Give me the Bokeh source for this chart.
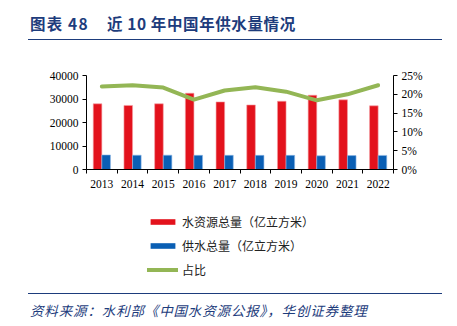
from bokeh.plotting import figure
from bokeh.models import (Range1d, LinearAxis, FixedTicker, Legend, LegendItem, ColumnDataSource, Div)
from bokeh.layouts import column
from bokeh.transform import dodge
from bokeh.embed import file_html
from bokeh.resources import INLINE

years = ["2013", "2014", "2015", "2016", "2017", "2018", "2019", "2020", "2021", "2022"]
water_resources = [27958, 27267, 27963, 32466, 28761, 27463, 29041, 31605, 29638, 27088]
water_supply = [6183, 6095, 6103, 6040, 6043, 6016, 6021, 5813, 5920, 5998]
ratio_pct = [22.1, 22.4, 21.8, 18.6, 21.0, 21.9, 20.7, 18.4, 20.0, 22.4]
left_ticks = [0, 10000, 20000, 30000, 40000]
right_ticks = [0, 5, 10, 15, 20, 25]
series_names = ["水资源总量（亿立方米）", "供水总量（亿立方米）", "占比"]
title_label = "图表 48"
title_text = "近 10 年中国年供水量情况"
source_text = "资料来源：水利部《中国水资源公报》，华创证券整理"

RED = "#e3121c"
BLUE = "#0a5fb4"
GREEN = "#93b655"
NAVY = "#1d3c7c"
CJK = "Noto Sans CJK SC"

W = 457
TOP_H, MAIN_H, LEG_H, BOT_H = 55, 145, 90, 36
FL, FR = 86, 393

# ---------- title ----------
span_style = (f"position:absolute;top:12px;line-height:22px;white-space:nowrap;"
              f"font-family:'{CJK}';font-weight:bold;font-size:15.5px;color:{NAVY};")
top = Div(width=W, height=TOP_H, margin=(0, 0, 0, 0),
          text=(f'<div style="position:absolute;left:28px;top:0px;width:414px;height:40px;'
                f'border-bottom:1.6px solid {NAVY};">'
                f'<span style="{span_style}left:2px;letter-spacing:1.2px;">{title_label}</span>'
                f'<span style="{span_style}left:79px;letter-spacing:0.6px;">{title_text}</span>'
                f'</div>'))

# ---------- main chart ----------
p = figure(width=W, height=MAIN_H, output_backend="svg", toolbar_location=None,
           x_range=Range1d(0, len(years)), y_range=Range1d(0, 40000),
           min_border_left=FL, min_border_right=W - FR,
           min_border_top=20, min_border_bottom=31,
           background_fill_color="white", border_fill_color="white", margin=(0, 0, 0, 0))
p.outline_line_color = None
p.xgrid.visible = False
p.ygrid.visible = False

centers = [i + 0.5 for i in range(len(years))]
src = ColumnDataSource(dict(x=centers, res=water_resources, sup=water_supply, ratio=ratio_pct))

bw = 0.28
p.vbar(x=dodge("x", -bw / 2, range=p.x_range), top="res", width=bw, source=src,
       fill_color=RED, line_color="#f4a0a4", line_width=0.6)
p.vbar(x=dodge("x", bw / 2, range=p.x_range), top="sup", width=bw, source=src,
       fill_color=BLUE, line_color="#8fb8e6", line_width=0.6)

p.extra_y_ranges = {"pct": Range1d(0, 25)}
p.line(x="x", y="ratio", source=src, y_range_name="pct", line_color=GREEN,
       line_width=4, line_join="round", line_cap="round")

axis_font = "Liberation Serif"
xa = p.xaxis[0]
xa.ticker = FixedTicker(ticks=centers, minor_ticks=list(range(len(years) + 1)))
xa.major_label_overrides = {c: y for c, y in zip(centers, years)}
xa.major_tick_out = 0
xa.major_tick_in = 0
xa.minor_tick_out = 4
xa.minor_tick_in = 0
xa.minor_tick_line_color = "black"
xa.axis_line_color = "black"
xa.major_label_text_font = axis_font
xa.major_label_text_font_size = "11.5px"
xa.major_label_text_color = "black"
xa.major_label_standoff = 6

ya = p.yaxis[0]
ya.ticker = FixedTicker(ticks=left_ticks)
ya.major_label_overrides = {t: str(t) for t in left_ticks}
ya.major_tick_out = 4
ya.major_tick_in = 0
ya.minor_tick_line_color = None
ya.axis_line_color = "black"
ya.major_label_text_font = axis_font
ya.major_label_text_font_size = "11.5px"
ya.major_label_text_color = "black"
ya.major_label_standoff = 4

ra = LinearAxis(y_range_name="pct", ticker=FixedTicker(ticks=right_ticks))
ra.major_label_overrides = {t: f"{t}%" for t in right_ticks}
ra.major_tick_out = 4
ra.major_tick_in = 0
ra.minor_tick_line_color = None
ra.axis_line_color = "black"
ra.major_label_text_font = axis_font
ra.major_label_text_font_size = "11.5px"
ra.major_label_text_color = "black"
ra.major_label_standoff = 4
p.add_layout(ra, "right")

# ---------- legend ----------
leg = figure(width=W, height=LEG_H, output_backend="svg", toolbar_location=None,
             x_range=Range1d(0, 1), y_range=Range1d(0, 1),
             x_axis_location=None, y_axis_location=None,
             min_border_left=FL, min_border_right=W - FR, min_border_top=0, min_border_bottom=0,
             background_fill_color="white", border_fill_color="white", margin=(0, 0, 0, 0))
leg.outline_line_color = None
leg.grid.visible = False
off = ColumnDataSource(dict(x=[-10, -9], y=[-10, -10]))
lr = leg.rect(x="x", y="y", width=0.1, height=0.1, source=off, fill_color=RED, line_color=None)
lb = leg.rect(x="x", y="y", width=0.1, height=0.1, source=off, fill_color=BLUE, line_color=None)
lg = leg.line(x="x", y="y", source=off, line_color=GREEN, line_width=4, line_cap="round")
legend = Legend(items=[LegendItem(label=series_names[0], renderers=[lr]),
                       LegendItem(label=series_names[1], renderers=[lb]),
                       LegendItem(label=series_names[2], renderers=[lg])],
                location=(61, 12), orientation="vertical",
                label_text_font=CJK, label_text_font_size="12px", label_text_color="#222222",
                glyph_width=31, glyph_height=7, label_height=18, spacing=6,
                padding=0, margin=0, label_standoff=4,
                border_line_color=None, background_fill_alpha=0)
leg.add_layout(legend, "center")

# ---------- source ----------
bot = Div(width=W, height=BOT_H, margin=(0, 0, 0, 0),
          text=(f'<div style="position:absolute;left:28px;top:3px;width:414px;height:30px;'
                f'border-top:1.6px solid {NAVY};">'
                f'<span style="position:absolute;left:2px;top:6px;line-height:20px;white-space:nowrap;'
                f'font-family:\'{CJK}\';font-style:italic;font-size:13.5px;letter-spacing:0.85px;'
                f'color:{NAVY};">{source_text}</span></div>'))

layout = column(top, p, leg, bot, spacing=0)
open("out.html", "w").write(file_html(layout, INLINE))
